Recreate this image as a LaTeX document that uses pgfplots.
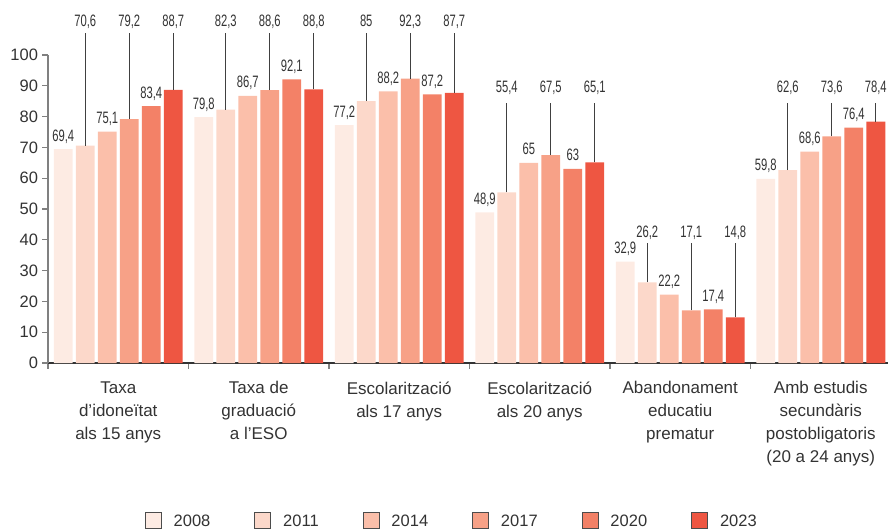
\documentclass[border=0pt]{standalone}
\usepackage{fontspec}
\setmainfont{Liberation Sans}
\newfontfamily\condfont[FakeStretch=0.68]{Liberation Sans}
\usepackage{pgfplots}
\pgfplotsset{compat=1.18}
\definecolor{c2008}{HTML}{FDEBE3}
\definecolor{c2011}{HTML}{FCD8CA}
\definecolor{c2014}{HTML}{FBBFAA}
\definecolor{c2017}{HTML}{F7A187}
\definecolor{c2020}{HTML}{F38167}
\definecolor{c2023}{HTML}{EE5642}
\definecolor{txt}{HTML}{333333}
\tikzset{
  dlab/.style={font=\condfont\fontsize{16.5}{18}\selectfont, text=txt, inner sep=0pt, anchor=base},
  lead/.style={draw=black!75, line width=1pt}
}
\newcommand\dl[3]{\node[dlab, yshift=8pt] at (axis cs:#1,#2) {#3};}
\newcommand\leadlab[5]{\draw[lead] (axis cs:#1,#2) -- (axis cs:#1,#4); \node[dlab] at (axis cs:#1,#3) {#5};}
\pgfplotsset{
  mybar/.style={fill=#1, draw=none,
    legend image code/.code={\draw[fill=#1, draw=black!70, line width=0.8pt] (0pt,-6.5pt) rectangle (16pt,9.5pt);}}
}
\begin{document}
\begin{tikzpicture}[x=1pt,y=1pt]
\path[use as bounding box] (-48,-169) rectangle (840,363);
\begin{axis}[
  at={(0,0)}, anchor=south west,
  scale only axis, width=843pt, height=308pt,
  xmin=-0.5, xmax=5.5, ymin=0, ymax=100,
  clip=false,
  ybar, bar width=0.135,
  /pgf/number format/assume math mode=true,
  axis x line*=bottom, axis y line*=left,
  x axis line style={draw=txt, line width=1.2pt, -},
  y axis line style={draw=black!50, line width=1.2pt, -},
  ytick={0,10,...,100},
  yticklabel style={font=\fontsize{16.5}{19}\selectfont, text=txt, xshift=-1pt},
  ytick style={draw=black!50, line width=1.2pt},
  tick align=outside, major tick length=5.5pt,
  xtick={-0.5,0.5,...,5.5}, xticklabels={},
  xtick style={draw=black!50, line width=1.5pt},
  extra x ticks={0,1,2,3,4,5},
  extra x tick labels={{Taxa\\d'idoneïtat\\als 15 anys},{Taxa de\\graduació\\a l'ESO},{Escolarització\\als 17 anys},{Escolarització\\als 20 anys},{Abandonament\\educatiu\\prematur},{Amb estudis\\secundàris\\postobligatoris\\(20 a 24 anys)}},
  extra x tick style={major tick length=0pt, tick style={draw=none},
    tick label style={font=\fontsize{17}{23}\selectfont, text=txt, align=center, anchor=north, yshift=-15pt}},
  legend columns=6,
  legend style={draw=none, at={(0.479,-0.513)}, anchor=center, font=\fontsize{16.5}{19}\selectfont, text=txt,
    /tikz/every odd column/.append style={column sep=10pt},
    /tikz/every even column/.append style={column sep=42pt}},
]
\addplot[mybar=c2008, bar shift=-0.3915] coordinates {(0,69.4) (1,79.8) (2,77.2) (3,48.9) (4,32.9) (5,59.8)};
\addplot[mybar=c2011, bar shift=-0.2349] coordinates {(0,70.6) (1,82.3) (2,85) (3,55.4) (4,26.2) (5,62.6)};
\addplot[mybar=c2014, bar shift=-0.0783] coordinates {(0,75.1) (1,86.7) (2,88.2) (3,65) (4,22.2) (5,68.6)};
\addplot[mybar=c2017, bar shift=0.0783] coordinates {(0,79.2) (1,88.6) (2,92.3) (3,67.5) (4,17.1) (5,73.6)};
\addplot[mybar=c2020, bar shift=0.2349] coordinates {(0,83.4) (1,92.1) (2,87.2) (3,63) (4,17.4) (5,76.4)};
\addplot[mybar=c2023, bar shift=0.3915] coordinates {(0,88.7) (1,88.8) (2,87.7) (3,65.1) (4,14.8) (5,78.4)};
\legend{2008,2011,2014,2017,2020,2023}
% direct labels
\dl{-0.3915}{69.4}{69,4} \dl{-0.0783}{75.1}{75,1} \dl{0.2349}{83.4}{83,4}
\dl{0.6085}{79.8}{79,8} \dl{0.9217}{86.7}{86,7} \dl{1.2349}{92.1}{92,1}
\dl{1.6085}{77.2}{77,2} \dl{1.9217}{88.2}{88,2} \dl{2.2349}{87.2}{87,2}
\dl{2.6085}{48.9}{48,9} \dl{2.9217}{65}{65} \dl{3.2349}{63}{63}
\dl{3.6085}{32.9}{32,9} \dl{3.9217}{22.2}{22,2} \dl{4.2349}{17.4}{17,4}
\dl{4.6085}{59.8}{59,8} \dl{4.9217}{68.6}{68,6} \dl{5.2349}{76.4}{76,4}
% leader labels
\leadlab{-0.2349}{70.6}{109.1}{107.1}{70,6} \leadlab{0.0783}{79.2}{109.1}{107.1}{79,2} \leadlab{0.3915}{88.7}{109.1}{107.1}{88,7}
\leadlab{0.7651}{82.3}{109.1}{107.1}{82,3} \leadlab{1.0783}{88.6}{109.1}{107.1}{88,6} \leadlab{1.3915}{88.8}{109.1}{107.1}{88,8}
\leadlab{1.7651}{85}{109.1}{107.1}{85} \leadlab{2.0783}{92.3}{109.1}{107.1}{92,3} \leadlab{2.3915}{87.7}{109.1}{107.1}{87,7}
\leadlab{2.7651}{55.4}{87.7}{84.4}{55,4} \leadlab{3.0783}{67.5}{87.7}{84.4}{67,5} \leadlab{3.3915}{65.1}{87.7}{84.4}{65,1}
\leadlab{3.7651}{26.2}{40.9}{39.0}{26,2} \leadlab{4.0783}{17.1}{40.9}{39.0}{17,1} \leadlab{4.3915}{14.8}{40.9}{39.0}{14,8}
\leadlab{4.7651}{62.6}{87.7}{84.4}{62,6} \leadlab{5.0783}{73.6}{87.7}{84.4}{73,6} \leadlab{5.3915}{78.4}{87.7}{84.4}{78,4}
\end{axis}
\end{tikzpicture}
\end{document}
